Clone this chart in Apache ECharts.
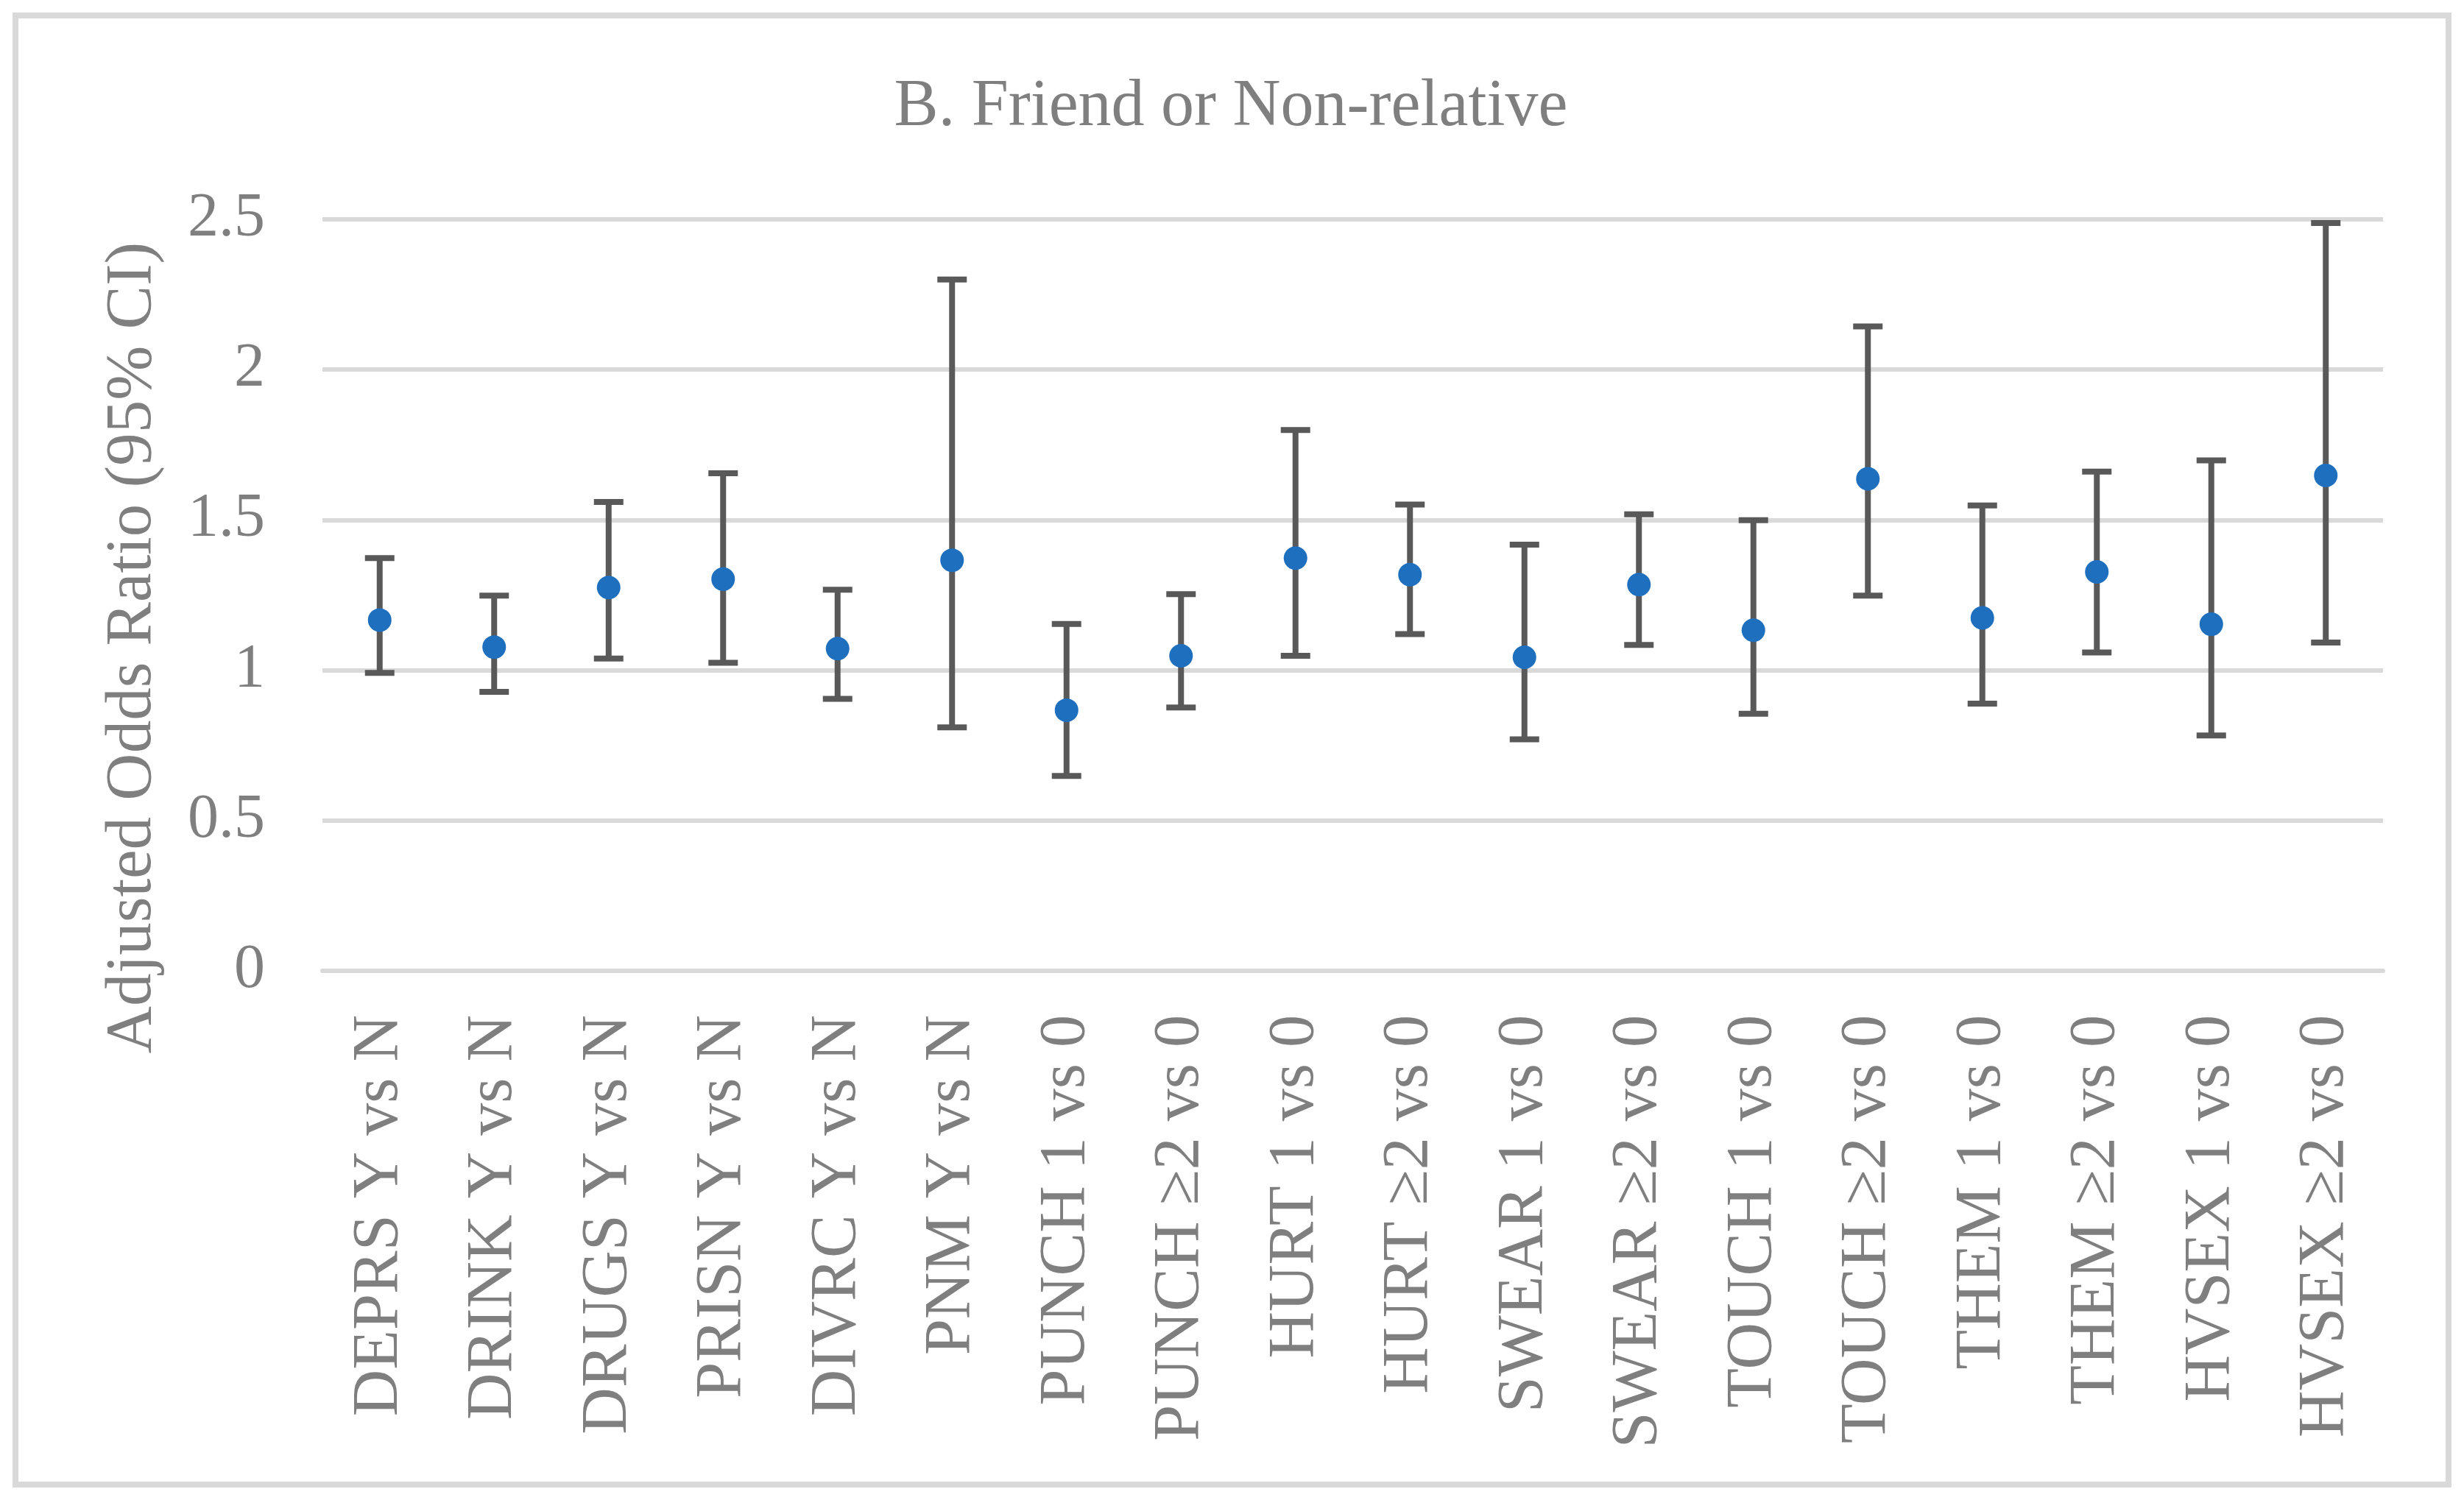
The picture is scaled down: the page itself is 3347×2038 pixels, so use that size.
<!DOCTYPE html>
<html>
<head>
<meta charset="utf-8">
<script src="https://cdn.jsdelivr.net/npm/echarts@6/dist/echarts.min.js"></script>
<style>
html,body{margin:0;padding:0;background:#fff;}
#chart{width:3347px;height:2038px;}
</style>
</head>
<body>
<div id="chart"></div>
<script>
const categories = ["DEPRS Y vs N","DRINK Y vs N","DRUGS Y vs N","PRISN Y vs N","DIVRC Y vs N","PNM Y vs N",
  "PUNCH 1 vs 0","PUNCH \u22652 vs 0","HURT 1 vs 0","HURT \u22652 vs 0","SWEAR 1 vs 0","SWEAR \u22652 vs 0",
  "TOUCH 1 vs 0","TOUCH \u22652 vs 0","THEM 1 vs 0","THEM \u22652 vs 0","HVSEX 1 vs 0","HVSEX \u22652 vs 0"];
const oddsRatio = [1.167,1.077,1.275,1.303,1.072,1.366,0.867,1.048,1.373,1.318,1.043,1.285,1.133,1.637,1.174,1.327,1.153,1.648];
const ciLower  = [0.991,0.928,1.039,1.025,0.905,0.810,0.648,0.876,1.048,1.120,0.770,1.084,0.855,1.248,0.889,1.059,0.783,1.092];
const ciUpper  = [1.373,1.248,1.560,1.655,1.268,2.300,1.154,1.253,1.799,1.551,1.418,1.519,1.499,2.144,1.548,1.661,1.698,2.488];
const yTicks = [0,0.5,1,1.5,2,2.5];
const titleText = "B. Friend or Non-relative";
const yName = "Adjusted Odds Ratio (95% CI)";

const FONT = "'Liberation Serif', 'DejaVu Serif', serif";
const TEXT = "#7f7f7f";
const chart = echarts.init(document.getElementById('chart'), null, {renderer:'canvas'});

const errData = categories.map((c,i)=>[i, ciLower[i], ciUpper[i]]);
const ptData = categories.map((c,i)=>[i, oddsRatio[i]]);

chart.setOption({
  backgroundColor:'#fff',
  animation:false,
  graphic:[
    {type:'rect', shape:{x:21,y:21,width:3305,height:1996}, style:{fill:'none', stroke:'#d9d9d9', lineWidth:8}, z:0},
    {type:'text', x:1672, y:146, style:{text:titleText, font:"90px "+FONT, fill:TEXT, textAlign:'center', textVerticalAlign:'middle'}},
    {type:'text', x:181, y:880, rotation:Math.PI/2, style:{text:yName, font:"89px "+FONT, fill:TEXT, textAlign:'center', textVerticalAlign:'middle'}}
  ],
  grid:{left:438, right:110, top:298, bottom:719, containLabel:false},
  xAxis:{
    type:'category', data:categories, boundaryGap:true,
    axisLine:{show:true, lineStyle:{color:'#d9d9d9', width:6}},
    axisTick:{show:false},
    axisLabel:{rotate:90, margin:60, fontFamily:FONT, fontSize:88, color:TEXT, interval:0},
    splitLine:{show:false}
  },
  yAxis:{
    type:'value', min:yTicks[0], max:yTicks[yTicks.length-1], interval:0.5,
    axisLine:{show:false}, axisTick:{show:false},
    axisLabel:{margin:78, fontFamily:FONT, fontSize:84, color:TEXT, formatter:v=>String(v)},
    splitLine:{show:true, lineStyle:{color:'#d9d9d9', width:6}}
  },
  series:[
    {
      type:'custom', data:errData, z:2,
      renderItem:function(params, api){
        const x = api.value(0);
        const lo = api.coord([x, api.value(1)]);
        const hi = api.coord([x, api.value(2)]);
        const half = 20;
        const st = {stroke:'#595959', lineWidth:8};
        return {type:'group', children:[
          {type:'line', shape:{x1:lo[0],y1:lo[1],x2:hi[0],y2:hi[1]}, style:st},
          {type:'line', shape:{x1:lo[0]-half,y1:lo[1],x2:lo[0]+half,y2:lo[1]}, style:st},
          {type:'line', shape:{x1:hi[0]-half,y1:hi[1],x2:hi[0]+half,y2:hi[1]}, style:st}
        ]};
      }
    },
    {
      type:'scatter', data:ptData, z:3, symbol:'circle', symbolSize:32,
      itemStyle:{color:'#1f6fbf', opacity:1}
    }
  ]
});
</script>
</body>
</html>
